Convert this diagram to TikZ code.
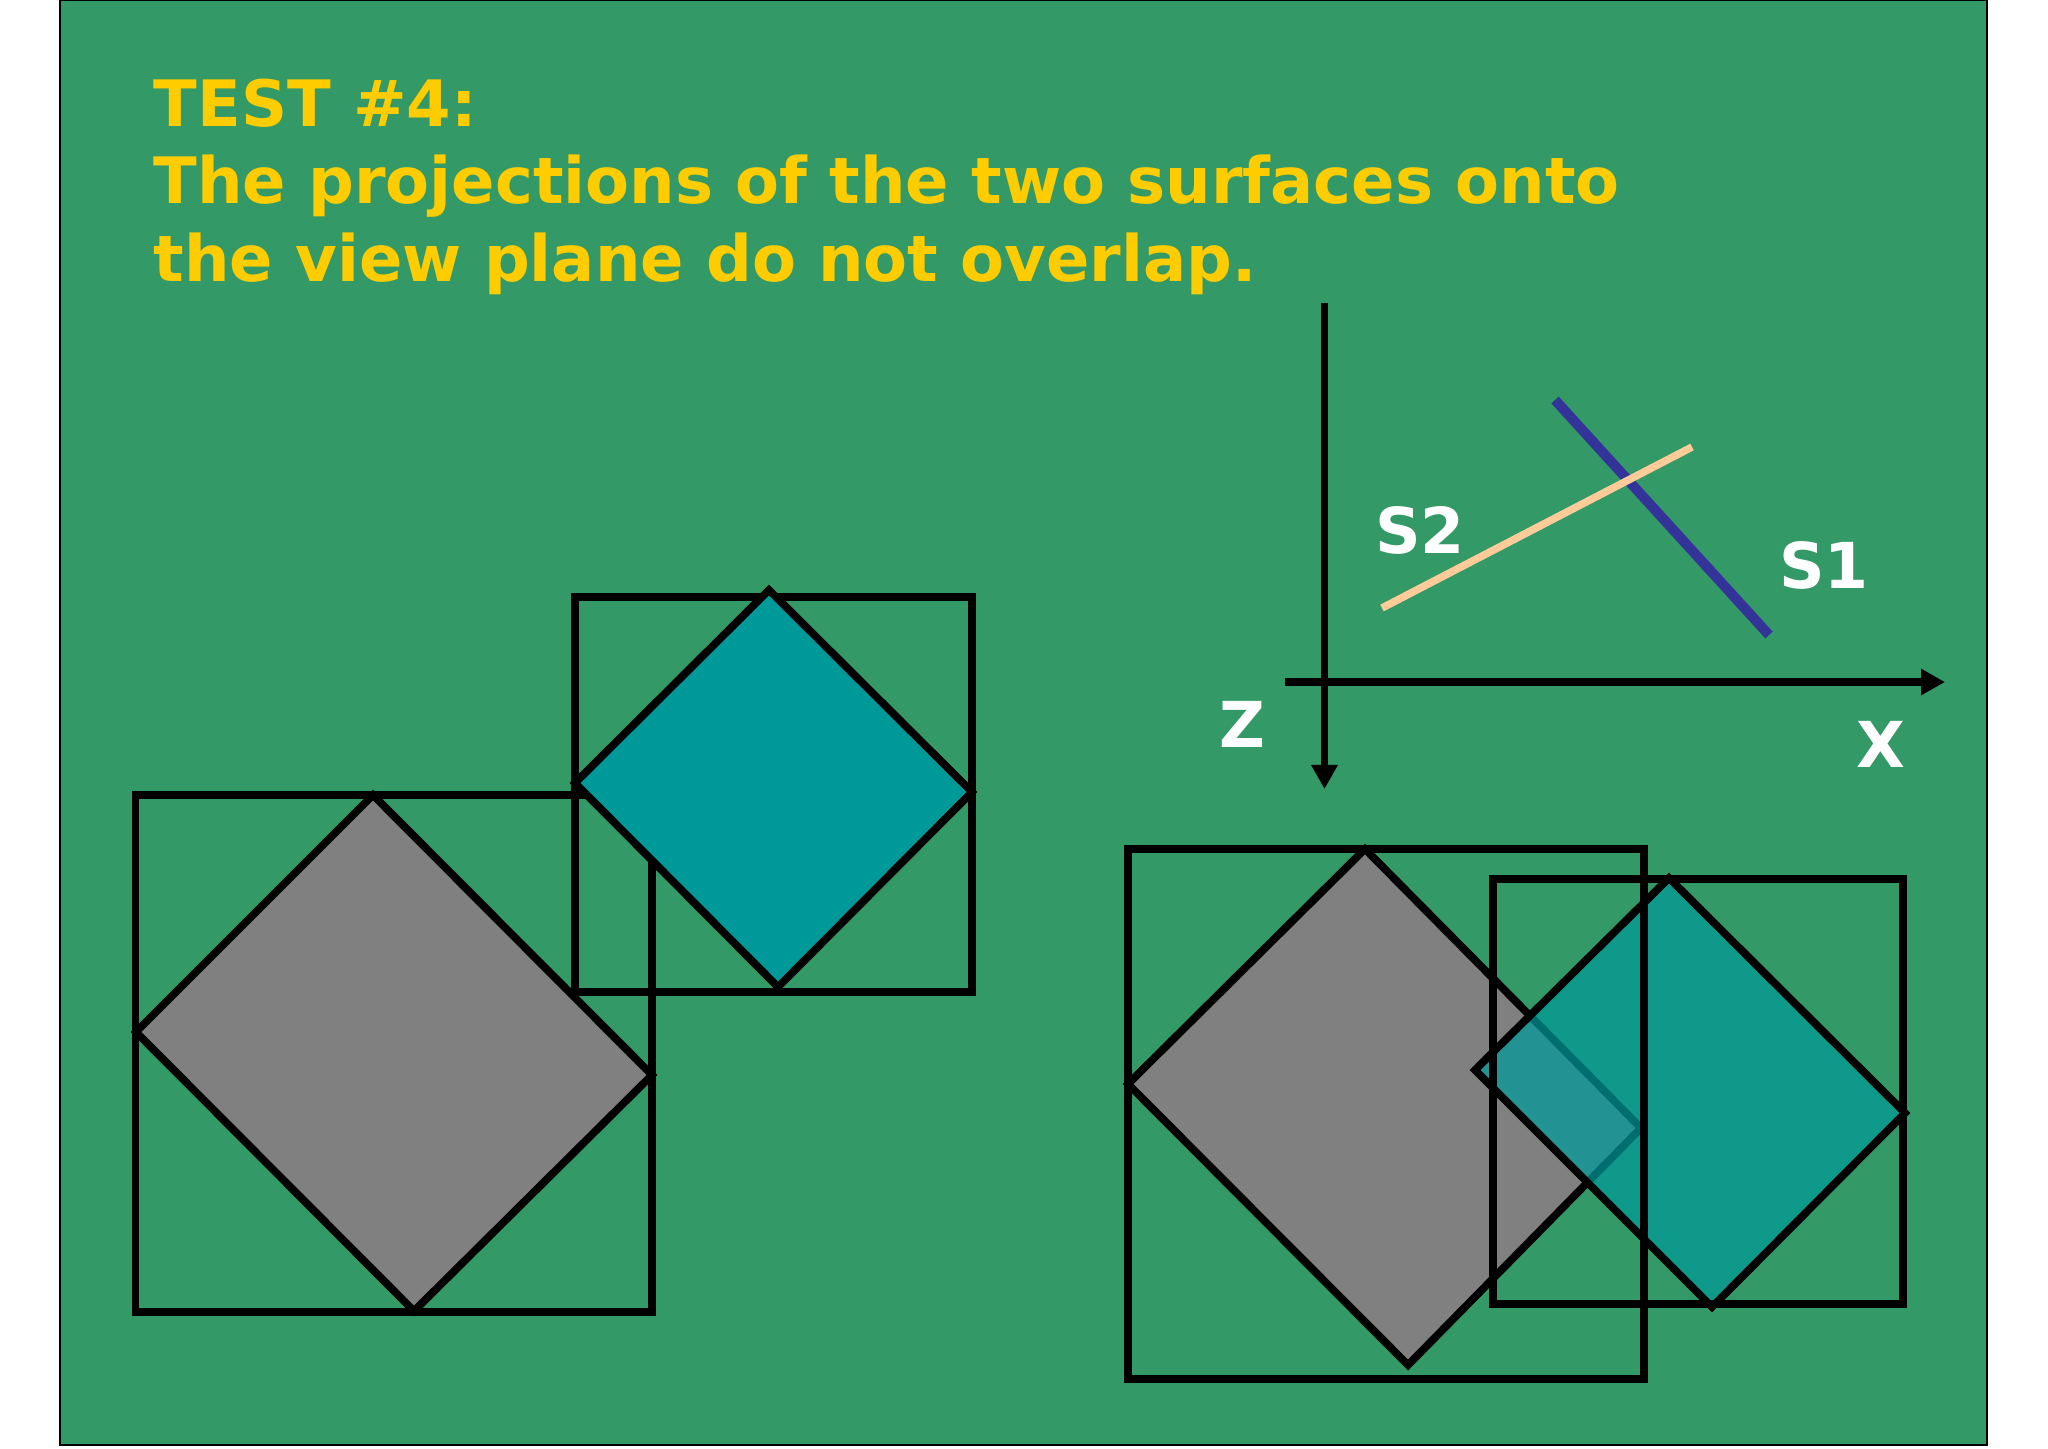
\documentclass[tikz,border=0pt]{standalone}
\usepackage{fontspec}
\setmainfont{DejaVu Sans}
\usepackage{tikz}
\usetikzlibrary{arrows.meta}
\definecolor{slidegreen}{HTML}{339966}
\definecolor{titleyellow}{HTML}{FFCC00}
\definecolor{surfteal}{HTML}{009999}
\definecolor{surfgrey}{HTML}{808080}
\definecolor{lineblue}{HTML}{333399}
\definecolor{linepeach}{HTML}{FFCC99}
\tikzstyle{slide} = [fill=slidegreen, draw=black, line width=0.02cm]
\tikzstyle{ttl} = [anchor=base west, inner sep=0pt, text=titleyellow, font=\bfseries\fontsize{18.2}{22}\selectfont]
\tikzstyle{lbl} = [inner sep=0pt, text=white, font=\bfseries\fontsize{18}{22}\selectfont]
\tikzstyle{extent} = [draw=black, line width=0.077cm]
\tikzstyle{greysurf} = [extent, fill=surfgrey]
\tikzstyle{tealsurf} = [extent, fill=surfteal]
\tikzstyle{axis} = [line width=0.078cm, -{Triangle[length=0.24cm, width=0.25cm]}]

\begin{document}
\begin{tikzpicture}[x=0.01cm, y=-0.01cm]
\useasboundingbox (0,0) rectangle (2048,1448);
\fill[white] (0,0) rectangle (2048,1448);
\draw[slide] (60,0) rectangle (1987,1445);

% title
\node(T1)[ttl] at (153,126.7) {TEST \#4:};
\node(T2)[ttl] at (153,203.3) {The projections of the two surfaces onto};
\node(T3)[ttl] at (153,281.7) {the view plane do not overlap.};

% left: projections apart
\draw[extent] (135.5,795) rectangle (652,1312);
\draw[greysurf] (373,795) -- (652,1075) -- (414,1311) -- (136,1032) -- cycle;
\draw[extent] (575,597) rectangle (972,992);
\draw[tealsurf] (769,590) -- (972,792) -- (778,987) -- (575,783) -- cycle;

% right: projections overlapping
\draw[greysurf] (1365,849) -- (1641,1128) -- (1408,1365) -- (1128,1084) -- cycle;
\draw[tealsurf, fill opacity=0.72] (1669,878) -- (1905,1113) -- (1712,1307) -- (1475,1070) -- cycle;
\draw[extent] (1128,849) rectangle (1644,1379);
\draw[extent] (1493,879) rectangle (1903,1304);

% axes
\coordinate (ztop) at (1324.5,303);
\coordinate (zend) at (1324.5,789);
\coordinate (xbeg) at (1285,682);
\coordinate (xend) at (1945,682);
\draw[axis] (ztop) -- (zend);
\draw[axis] (xbeg) -- (xend);

% surfaces seen edge on
\coordinate (s1a) at (1555,400);
\coordinate (s1b) at (1769,635);
\coordinate (s2a) at (1382,608);
\coordinate (s2b) at (1692,447);
\draw[lineblue, line width=0.1cm] (s1a) -- (s1b);
\draw[linepeach, line width=0.075cm] (s2a) -- (s2b);

\node(S2)[lbl] at (1420,530) {S2};
\node(S1)[lbl] at (1824,565) {S1};
\node(X)[lbl] at (1881,744) {X};
\node(Z)[lbl] at (1242,724) {Z};

\end{tikzpicture}
\end{document}
